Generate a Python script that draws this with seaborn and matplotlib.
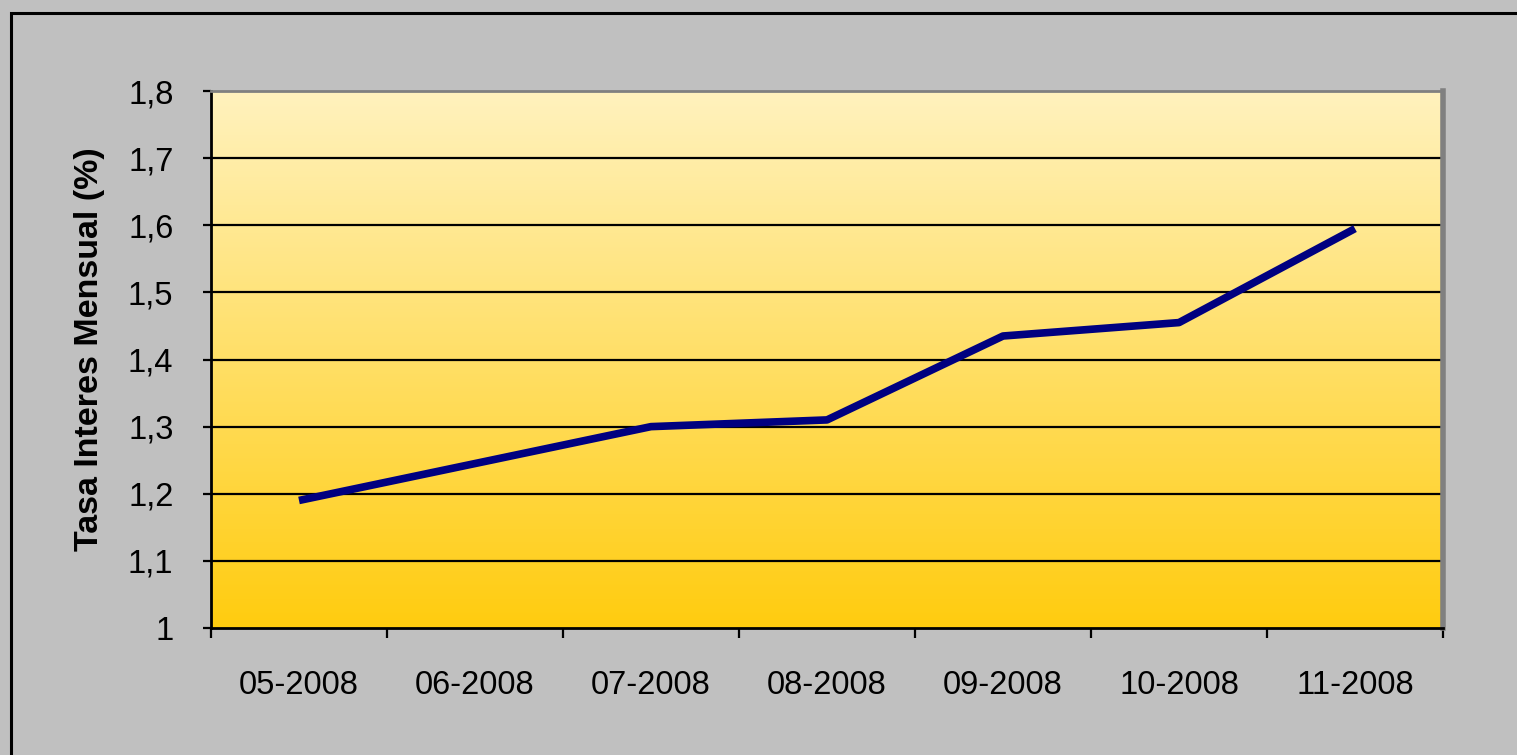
import numpy as np
import pandas as pd
import matplotlib
matplotlib.use("Agg")
import matplotlib.pyplot as plt
from matplotlib.colors import LinearSegmentedColormap
from matplotlib.patches import Rectangle
import seaborn as sns

months = ["05-2008", "06-2008", "07-2008", "08-2008", "09-2008", "10-2008", "11-2008"]
rates = [1.19, 1.245, 1.30, 1.31, 1.435, 1.455, 1.595]
y_ticks = [1.0, 1.1, 1.2, 1.3, 1.4, 1.5, 1.6, 1.7, 1.8]
y_tick_labels = ["1", "1,1", "1,2", "1,3", "1,4", "1,5", "1,6", "1,7", "1,8"]
y_label = "Tasa Interes Mensual (%)"

sns.set_theme(style="white")
plt.rcParams["font.family"] = ["Liberation Sans", "DejaVu Sans"]

DPI = 100
fig = plt.figure(figsize=(15.17, 7.55), dpi=DPI, facecolor="#C0C0C0")
W, H = 1517, 755
ax = fig.add_axes([211 / W, (H - 628) / H, (1443 - 211) / W, (628 - 91) / H])

# gradient background
cmap = LinearSegmentedColormap.from_list("gold", ["#FFCC0F", "#FFF2BE"])
grad = np.linspace(0, 1, 256).reshape(-1, 1)
ax.imshow(grad, extent=[0, 1, 0, 1], transform=ax.transAxes, aspect="auto",
          cmap=cmap, origin="lower", zorder=0)

df = pd.DataFrame({"pos": np.arange(len(months)), "rate": rates})
sns.lineplot(data=df, x="pos", y="rate", ax=ax, color="#000080", linewidth=5.5,
             zorder=5, solid_capstyle="butt")

ax.set_xlim(-0.5, len(months) - 0.5)
ax.set_ylim(1.0, 1.8)
ax.set_yticks(y_ticks)
ax.set_yticklabels(y_tick_labels)
for y in y_ticks[1:-1]:
    ax.axhline(y, color="black", linewidth=1.6, zorder=2)

ax.set_xticks(np.arange(-0.5, len(months), 1.0))
ax.set_xticklabels([])
ax.set_xticks(np.arange(len(months)), minor=True)
ax.set_xticklabels(months, minor=True)
ax.tick_params(axis="x", which="major", direction="out", length=7, width=1.6,
               color="black", bottom=True)
ax.tick_params(axis="x", which="minor", length=0, pad=30, labelsize=23.5,
               labelcolor="black")
ax.tick_params(axis="y", direction="out", length=6, width=1.6, color="black",
               left=True, pad=21, labelsize=23.5, labelcolor="black")

ax.set_xlabel("")
ax.set_ylabel(y_label, fontsize=24.5, fontweight="bold", color="black")
ax.yaxis.set_label_coords(-0.086, 0.52)

for side in ["left", "bottom"]:
    ax.spines[side].set_color("black")
    ax.spines[side].set_linewidth(2)
ax.spines["top"].set_color("#808080")
ax.spines["top"].set_linewidth(2)
ax.spines["right"].set_color("#808080")
ax.spines["right"].set_linewidth(4)
for s in ax.spines.values():
    s.set_zorder(6)

# outer black frame of the chart
fig.patches.append(Rectangle((10.5 / W, -0.05), 1.2, (H - 12.5) / H + 0.05,
                             transform=fig.transFigure, fill=False,
                             edgecolor="black", linewidth=2.2, zorder=10))

fig.savefig("out.png", dpi=DPI, facecolor=fig.get_facecolor())
